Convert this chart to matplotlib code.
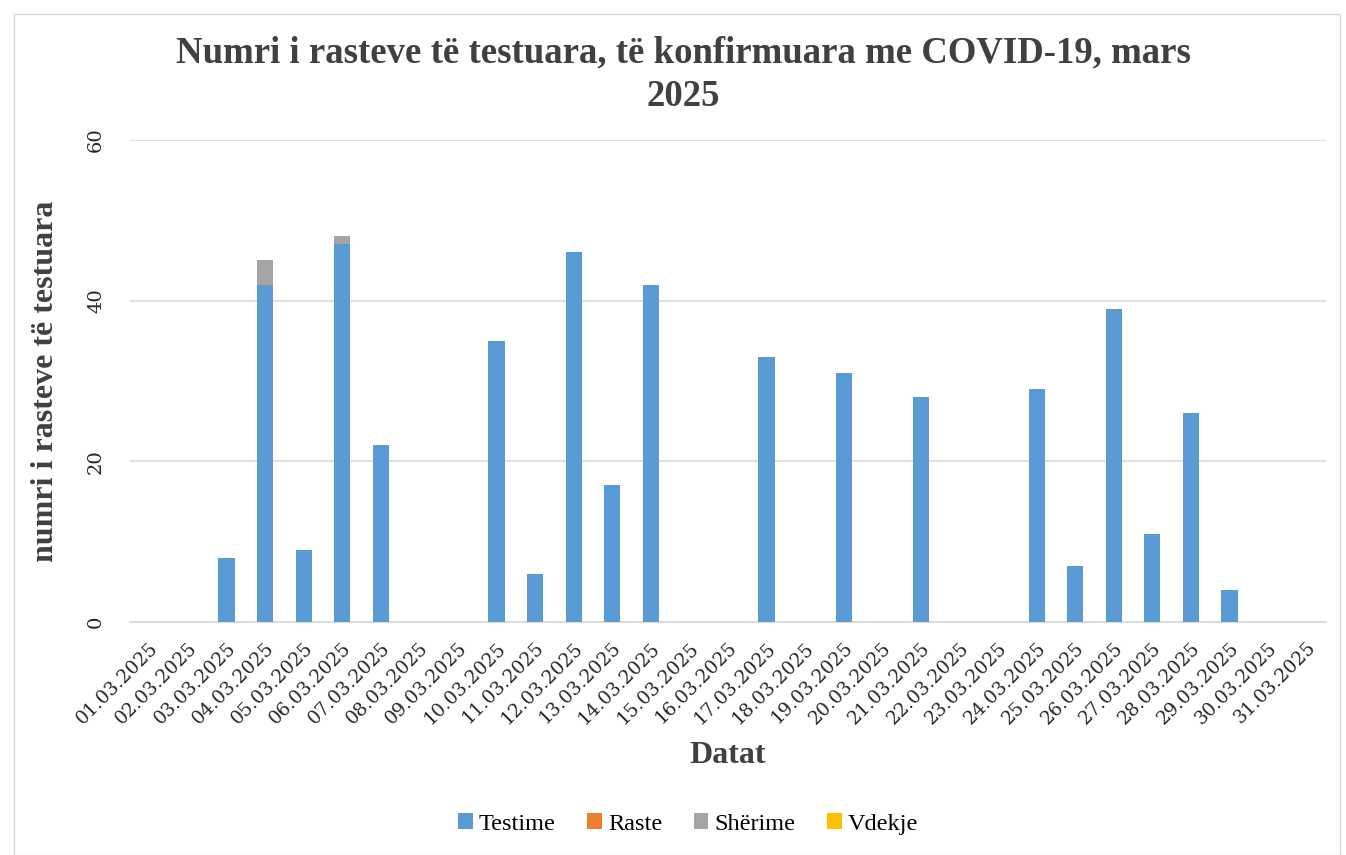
import numpy as np
import matplotlib
matplotlib.use("Agg")
import matplotlib.pyplot as plt
from matplotlib.patches import Rectangle

datat = [f"{d:02d}.03.2025" for d in range(1, 32)]
testime = [0, 0, 8, 42, 9, 47, 22, 0, 0, 35, 6, 46, 17, 42, 0, 0, 33, 0, 31, 0,
           28, 0, 0, 29, 7, 39, 11, 26, 4, 0, 0]
raste = [0] * 31
sherime = [0, 0, 0, 3, 0, 1, 0, 0, 0, 0, 0, 0, 0, 0, 0, 0, 0, 0, 0, 0,
           0, 0, 0, 0, 0, 0, 0, 0, 0, 0, 0]
vdekje = [0] * 31

ngjyrat = {"Testime": "#5b9bd5", "Raste": "#ed7d31", "Shërime": "#a5a5a5", "Vdekje": "#ffc000"}
FONT = "Liberation Serif"
FONT_TIK = "DejaVu Serif"

fig = plt.figure(figsize=(13.46, 8.55), dpi=100)
ax = fig.add_axes([130 / 1346, 1 - 622 / 855, 1196 / 1346, 482 / 855])
fig.patches.append(Rectangle((14 / 1346, 0), 1326 / 1346, 841 / 855, transform=fig.transFigure,
                             fill=False, edgecolor="#d9d9d9", lw=1))

x = np.arange(len(datat))
baza = np.zeros(len(datat))
for emri, vlerat in (("Testime", testime), ("Raste", raste), ("Shërime", sherime), ("Vdekje", vdekje)):
    ax.bar(x, vlerat, 0.42, bottom=baza, color=ngjyrat[emri], label=emri, zorder=3)
    baza = baza + np.array(vlerat)

ax.set_xlim(-0.5, len(datat) - 0.5)
ax.set_ylim(0, 60)
ax.set_yticks([0, 20, 40, 60])
ax.set_yticklabels(["0", "20", "40", "60"], rotation=90, va="center", family=FONT_TIK,
                   fontsize=14, color="#262626")
ax.set_xticks(x)
ax.set_xticklabels(datat, rotation=45, ha="right", rotation_mode="anchor", family=FONT_TIK,
                   fontsize=13.5, color="#262626")
ax.tick_params(length=0)
ax.tick_params(axis="y", pad=18)
ax.tick_params(axis="x", pad=12)
ax.grid(axis="y", color="#d9d9d9", lw=1.2, zorder=0)
for s in ("top", "right", "left"):
    ax.spines[s].set_visible(False)
ax.spines["bottom"].set_color("#d9d9d9")
ax.spines["bottom"].set_linewidth(1.2)

ax.set_ylabel("numri i rasteve të testuara", family=FONT, fontsize=23, fontweight="bold",
              color="#404040")
ax.yaxis.set_label_coords(-70 / 1196, 0.5)
ax.set_xlabel("Datat", family=FONT, fontsize=23, fontweight="bold", color="#404040", labelpad=10)
fig.text(683 / 1346, 1 - 75 / 855, "Numri i rasteve të testuara, të konfirmuara me COVID-19, mars\n2025",
         ha="center", va="center", family=FONT, fontsize=26.5, fontweight="bold", color="#404040",
         linespacing=1.3)

fig.legend(loc="center", bbox_to_anchor=(688 / 1346, 1 - 824 / 855), ncol=4, frameon=False,
           prop={"family": FONT, "size": 17.5}, handlelength=0.6, handleheight=0.6,
           handletextpad=0.25, columnspacing=1.3)

fig.savefig("out.png", dpi=100)
